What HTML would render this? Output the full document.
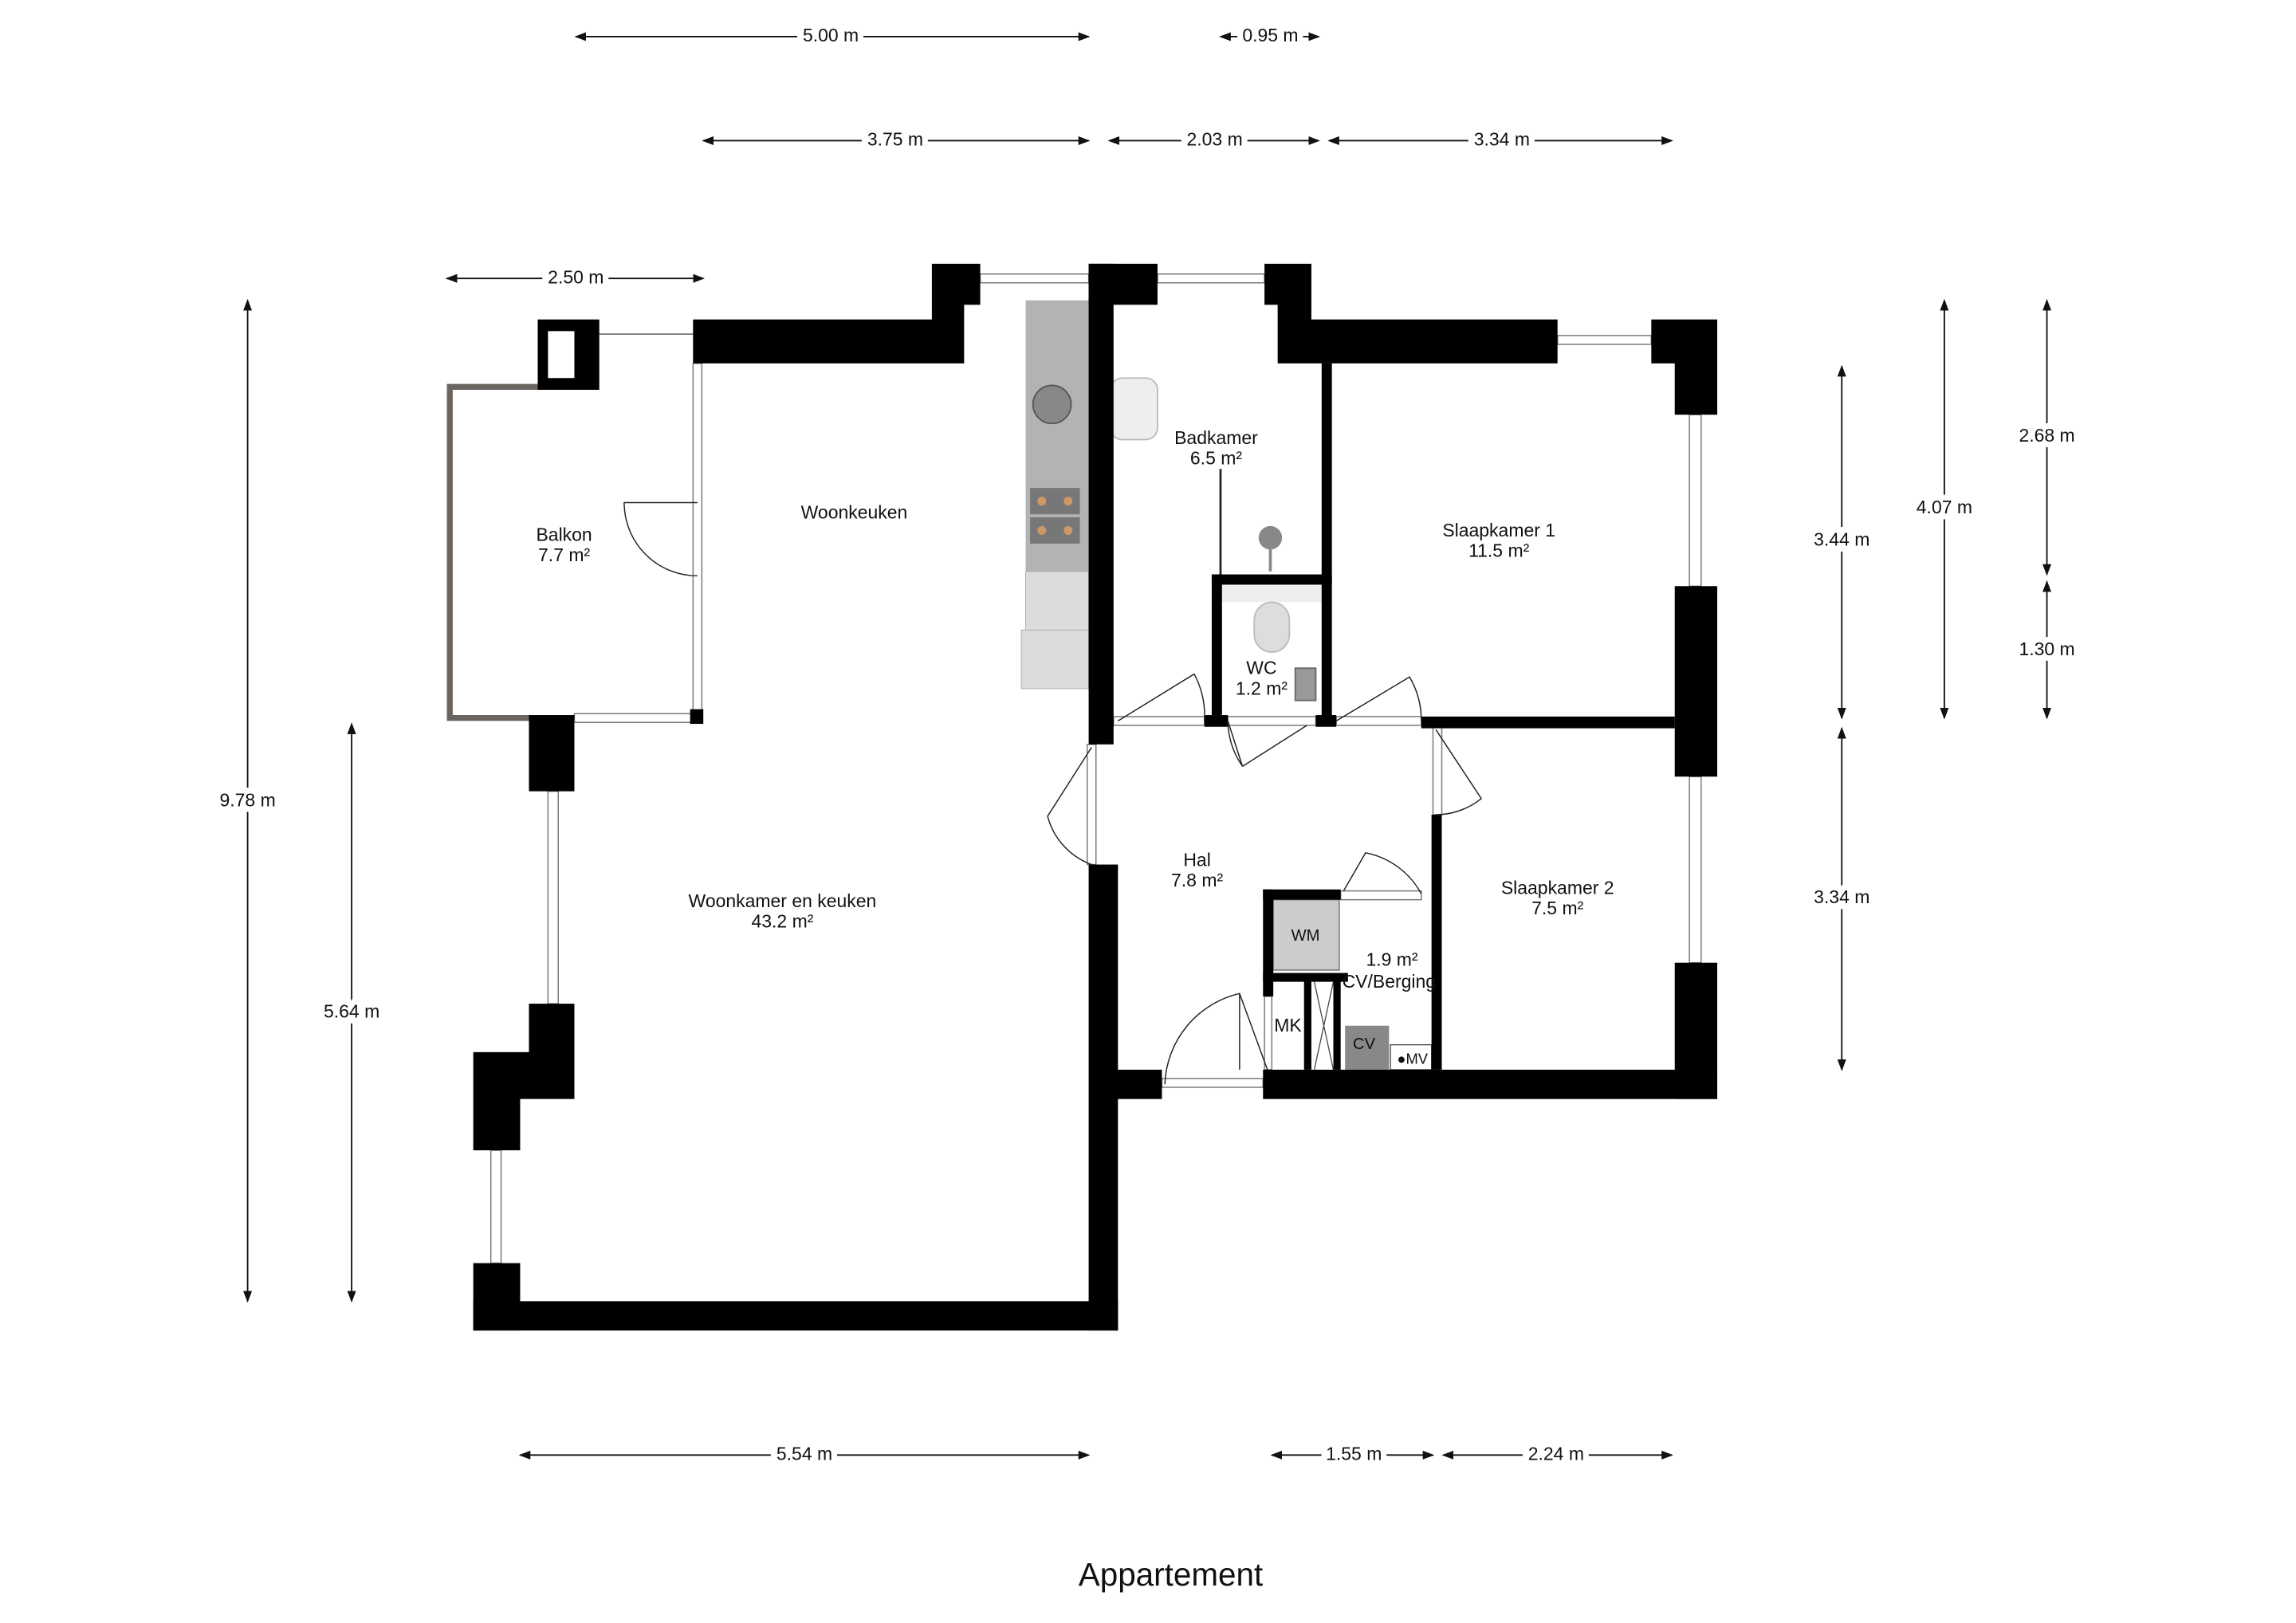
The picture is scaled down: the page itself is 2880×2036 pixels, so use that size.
<!DOCTYPE html>
<html><head><meta charset="utf-8"><style>
html,body{margin:0;padding:0;background:#fff;}
svg{display:block;}
text{font-family:"Liberation Sans",sans-serif;fill:#111;}
.d{font-size:12.5px;text-anchor:middle;dominant-baseline:middle;paint-order:stroke;stroke:#fff;stroke-width:8px;}
.l{font-size:12.5px;text-anchor:middle;}
.win{fill:#fff;stroke:#777;stroke-width:0.8;}
.door{fill:none;stroke:#222;stroke-width:0.8;}
</style></head><body>
<svg width="2880" height="2036" viewBox="0 0 1567 1107.6" preserveAspectRatio="none" xmlns="http://www.w3.org/2000/svg">
<defs><marker id="a" markerWidth="8" markerHeight="6" refX="7" refY="3" orient="auto-start-reverse"><path d="M0,0 L8,3 L0,6 z" fill="#111"/></marker></defs>
<g stroke="#111" stroke-width="1" marker-start="url(#a)" marker-end="url(#a)">
<line x1="393" y1="25" x2="743" y2="25"/><line x1="833" y1="25" x2="900" y2="25"/>
<line x1="480" y1="96" x2="743" y2="96"/><line x1="757" y1="96" x2="900" y2="96"/><line x1="907" y1="96" x2="1141" y2="96"/>
<line x1="305" y1="190" x2="480" y2="190"/>
<line x1="169" y1="205" x2="169" y2="888"/><line x1="240" y1="494" x2="240" y2="888"/>
<line x1="1257" y1="250" x2="1257" y2="490"/><line x1="1257" y1="497" x2="1257" y2="730"/>
<line x1="1327" y1="205" x2="1327" y2="490"/>
<line x1="1397" y1="205" x2="1397" y2="392"/><line x1="1397" y1="397" x2="1397" y2="490"/>
<line x1="355" y1="993" x2="743" y2="993"/><line x1="868" y1="993" x2="978" y2="993"/><line x1="985" y1="993" x2="1141" y2="993"/>
</g>
<g class="d">
<text x="567" y="25">5.00 m</text><text x="867" y="25">0.95 m</text>
<text x="611" y="96">3.75 m</text><text x="829" y="96">2.03 m</text><text x="1025" y="96">3.34 m</text>
<text x="393" y="190">2.50 m</text>
<text x="169" y="547">9.78 m</text><text x="240" y="691">5.64 m</text>
<text x="1257" y="369">3.44 m</text><text x="1257" y="613">3.34 m</text>
<text x="1327" y="347">4.07 m</text><text x="1397" y="298">2.68 m</text><text x="1397" y="444">1.30 m</text>
<text x="549" y="993">5.54 m</text><text x="924" y="993">1.55 m</text><text x="1062" y="993">2.24 m</text>
</g>
<g class="win">
<rect x="669" y="187" width="74" height="6"/><rect x="790" y="187" width="73" height="6"/>
<rect x="1063" y="229" width="64" height="6"/>
<rect x="1153" y="283" width="8" height="117"/><rect x="1153" y="530" width="8" height="127"/>
<rect x="793" y="736" width="69" height="6"/>
<rect x="335" y="785" width="7" height="77"/><rect x="374" y="540" width="7" height="145"/>
<rect x="392" y="487" width="80" height="6"/>
<rect x="473" y="248" width="6" height="240"/>
<rect x="742" y="508" width="6" height="82"/>
<rect x="760" y="489" width="62" height="6"/><rect x="838" y="489" width="60" height="6"/><rect x="912" y="489" width="58" height="6"/>
<rect x="978" y="496" width="6" height="60"/>
<rect x="915" y="608" width="55" height="6"/>
<rect x="863" y="680" width="5" height="50"/>
</g>
<line x1="409" y1="228" x2="473" y2="228" stroke="#777" stroke-width="1"/>
<rect x="700" y="205" width="43" height="185" fill="#b3b3b3"/>
<rect x="700" y="390" width="43" height="40" fill="#dcdcdc" stroke="#aaa" stroke-width="0.5"/>
<rect x="697" y="430" width="46" height="40" fill="#dcdcdc" stroke="#aaa" stroke-width="0.5"/>
<circle cx="718" cy="276" r="13" fill="#888" stroke="#555"/>
<rect x="703" y="333" width="34" height="18" fill="#777"/><rect x="703" y="353" width="34" height="18" fill="#777"/>
<circle cx="711" cy="342" r="3" fill="#c96"/><circle cx="729" cy="342" r="3" fill="#c96"/><circle cx="711" cy="362" r="3" fill="#c96"/><circle cx="729" cy="362" r="3" fill="#c96"/>
<rect x="758" y="258" width="32" height="42" rx="8" fill="#eee" stroke="#bbb"/>
<line x1="833" y1="320" x2="833" y2="392" stroke="#222" stroke-width="1.5"/>
<circle cx="867" cy="367" r="8" fill="#888"/><line x1="867" y1="375" x2="867" y2="390" stroke="#888" stroke-width="2"/>
<rect x="834" y="399" width="68" height="12" fill="#eee"/>
<rect x="856" y="411" width="24" height="34" rx="12" fill="#ddd" stroke="#bbb"/>
<rect x="884" y="456" width="14" height="22" fill="#999" stroke="#666"/>
<rect x="869" y="614" width="45" height="48" fill="#ccc" stroke="#888"/>
<text x="891" y="642" class="l" style="font-size:11px">WM</text>
<path d="M897,670 L910,730 M910,670 L897,730" stroke="#444" stroke-width="0.7"/>
<rect x="918" y="700" width="30" height="30" fill="#888"/>
<text x="931" y="716" class="l" style="font-size:11px">CV</text>
<rect x="949" y="713" width="28" height="17" fill="#fff" stroke="#444" stroke-width="0.7"/>
<text x="964" y="726" class="l" style="font-size:10px">●MV</text>
<path d="M367,264 L307,264 L307,490 L361,490" fill="none" stroke="#6b6560" stroke-width="4"/>
<path d="M367,218 L409,218 L409,266 L367,266 Z M374,226 L374,258 L392,258 L392,226 Z" fill="#000" fill-rule="evenodd"/>
<g fill="#000">
<path d="M473,218 L636,218 L636,180 L669,180 L669,208 L658,208 L658,248 L473,248 Z"/>
<rect x="743" y="180" width="47" height="28"/><rect x="743" y="180" width="17" height="328"/>
<path d="M863,180 L895,180 L895,218 L1063,218 L1063,248 L872,248 L872,208 L863,208 Z"/>
<path d="M1127,218 L1172,218 L1172,283 L1143,283 L1143,248 L1127,248 Z"/>
<rect x="1143" y="400" width="29" height="130"/><rect x="1143" y="657" width="29" height="93"/>
<rect x="862" y="730" width="310" height="20"/><rect x="760" y="730" width="33" height="20"/>
<rect x="743" y="590" width="20" height="318"/>
<rect x="323" y="888" width="440" height="20"/><rect x="323" y="862" width="32" height="46"/>
<path d="M361,685 L392,685 L392,750 L355,750 L355,785 L323,785 L323,718 L361,718 Z"/>
<rect x="361" y="488" width="31" height="52"/>
<rect x="471" y="484" width="9" height="10"/>
<rect x="902" y="248" width="7" height="247"/>
<rect x="827" y="392" width="82" height="7"/><rect x="827" y="392" width="7" height="103"/>
<rect x="822" y="488" width="16" height="8"/><rect x="898" y="488" width="14" height="8"/>
<rect x="970" y="489" width="173" height="8"/>
<rect x="977" y="556" width="7" height="174"/>
<rect x="862" y="607" width="53" height="7"/><rect x="862" y="607" width="7" height="73"/>
<rect x="862" y="664" width="58" height="6"/><rect x="890" y="668" width="5" height="62"/><rect x="910" y="668" width="5" height="62"/>
</g>
<g class="door">
<path d="M476,343 L426,343 A50,50 0 0 0 476,393"/>
<path d="M763,492 L815,460 A60,60 0 0 1 822,492"/>
<path d="M838,492 L848,523 A56,56 0 0 1 838,492 M848,523 L892,495"/>
<path d="M912,492 L962,462 A58,58 0 0 1 970,492"/>
<path d="M980,498 L1011,545 A50,50 0 0 1 980,556"/>
<path d="M745,510 L715,557 A48,48 0 0 0 745,590"/>
<path d="M917,608 L932,582 A55,55 0 0 1 970,610"/>
<path d="M795,740 A66,66 0 0 1 846,678 L865,730 M846,678 L846,730"/>
</g>
<g class="l">
<text x="830" y="303">Badkamer</text><text x="830" y="317">6.5 m²</text>
<text x="583" y="354">Woonkeuken</text>
<text x="385" y="369">Balkon</text><text x="385" y="383">7.7 m²</text>
<text x="1023" y="366">Slaapkamer 1</text><text x="1023" y="380">11.5 m²</text>
<text x="861" y="460">WC</text><text x="861" y="474">1.2 m²</text>
<text x="817" y="591">Hal</text><text x="817" y="605">7.8 m²</text>
<text x="1063" y="610">Slaapkamer 2</text><text x="1063" y="624">7.5 m²</text>
<text x="534" y="619">Woonkamer en keuken</text><text x="534" y="633">43.2 m²</text>
<text x="950" y="659">1.9 m²</text><text x="948" y="674">CV/Berging</text>
<text x="879" y="704">MK</text>
<text x="799" y="1082" style="font-size:22px">Appartement</text>
</g>
</svg>
</body></html>
